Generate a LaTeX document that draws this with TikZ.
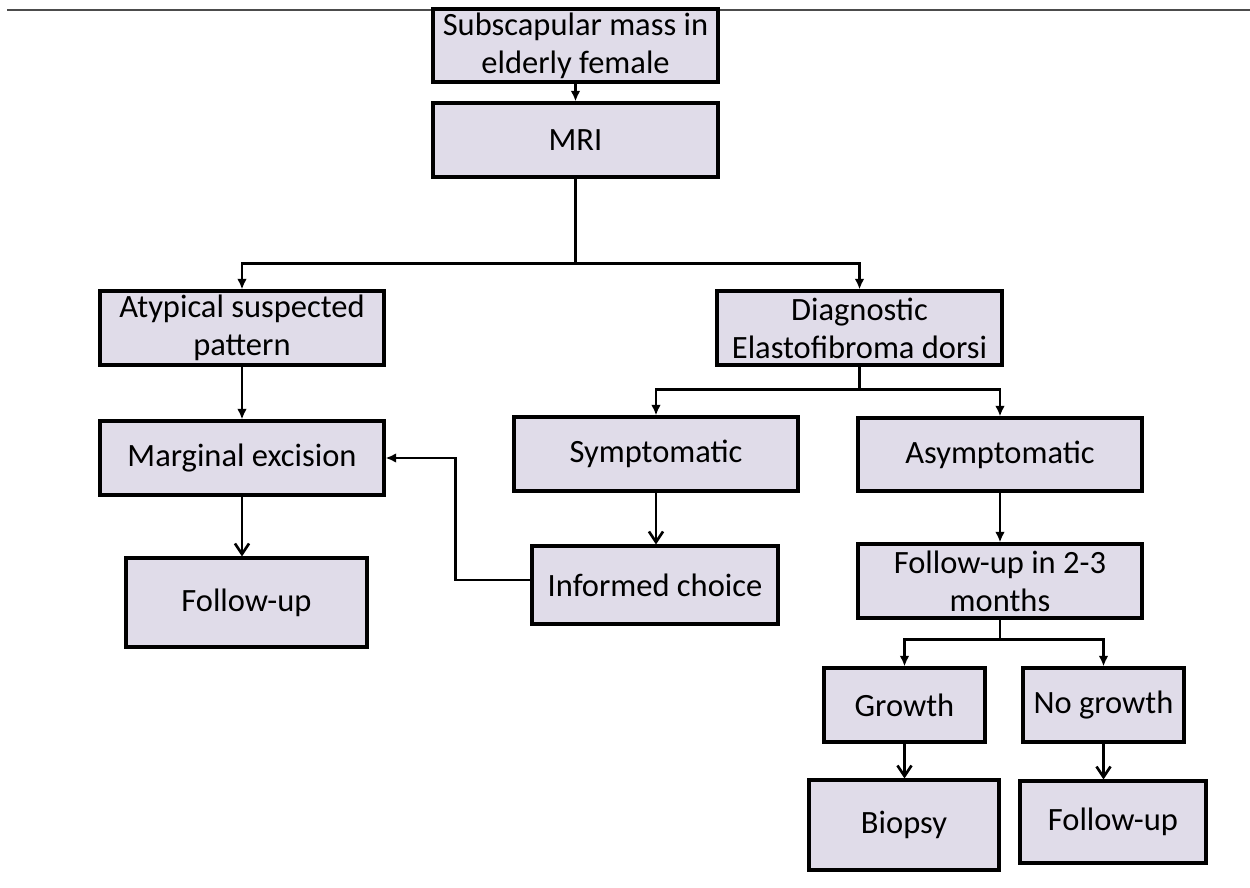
\documentclass[tikz,border=0pt]{standalone}
\usepackage{fontspec}
\setmainfont{Carlito}
\usetikzlibrary{arrows.meta}

\definecolor{boxfill}{RGB}{224,220,233}
\tikzset{
  box/.style={draw, fill=boxfill, line width=1.8pt, align=center, inner sep=0pt,
    font=\fontsize{18.5}{21.5}\selectfont},
  size/.style 2 args={minimum width=#1*0.02cm, minimum height=#2*0.02cm},
  link/.style={line width=1.4pt, -{Latex[length=6pt,width=5.5pt]}},
  plain link/.style={line width=1.4pt},
  bold link/.style={line width=1.5pt, -{Straight Barb[length=6pt,width=8pt]}}
}

\begin{document}
\begin{tikzpicture}[x=0.02cm, y=-0.02cm]
\useasboundingbox (0,0) rectangle (1250,888);

% rule on top
\draw[line width=1.2pt, black!70] (7,10) -- (1250,10);

% Boxes
\node[box, size={285}{73}] (mass) at (575.5,45.5) {Subscapular mass in\\elderly female};
\node[box, size={285}{74}] (mri) at (575.5,140) {MRI};
\node[box, size={284}{74}] (atyp) at (242,328) {Atypical suspected\\pattern};
\node[box, size={285}{74}] (diag) at (859.5,328) {Diagnostic\\Elastofibroma dorsi};
\node[box, size={284}{74}] (marg) at (242,458) {Marginal excision};
\node[box, size={241}{89}] (fuleft) at (246.5,602.5) {Follow-up};
\node[box, size={284}{74}] (sympt) at (656,454) {Symptomatic};
\node[box, size={246}{78}] (choice) at (655,585) {Informed choice};
\node[box, size={284}{73}] (asympt) at (1000,454.5) {Asymptomatic};
\node[box, size={284}{74}] (fumonths) at (1000,581) {Follow-up in 2-3\\months};
\node[box, size={161}{74}] (growth) at (904.5,705) {Growth};
\node[box, size={161}{74}] (nogrowth) at (1103.5,705) {No growth};
\node[box, size={190}{90}] (biopsy) at (904,825) {Biopsy};
\node[box, size={186}{82}] (furight) at (1113,822) {Follow-up};

% Connectors
\draw[link] (mass.south) -- (mri.north);
\draw[plain link] (mri.south) -- ++(0,85) coordinate (split1);
\draw[link] (split1) -| (atyp.north);
\draw[link] (split1) -| (diag.north);

\draw[link] (atyp.south) -- (marg.north);
\draw[bold link] (marg.south) -- (marg.south |- fuleft.north);

\draw[plain link] (diag.south) -- ++(0,23) coordinate (split2);
\draw[link] (split2) -| (sympt.north);
\draw[link] (split2) -| (asympt.north);

\draw[bold link] (sympt.south) -- (sympt.south |- choice.north);
\draw[link] ([yshift=3pt]choice.west) -- ++(-75,0) |- (marg.east);

\draw[link] (asympt.south) -- (fumonths.north);
\draw[plain link] (fumonths.south) -- ++(0,20) coordinate (split3);
\draw[link] (split3) -| (growth.north);
\draw[link] (split3) -| (nogrowth.north);

\draw[bold link] (growth.south) -- (growth.south |- biopsy.north);
\draw[bold link] (nogrowth.south) -- (nogrowth.south |- furight.north);
\end{tikzpicture}
\end{document}
